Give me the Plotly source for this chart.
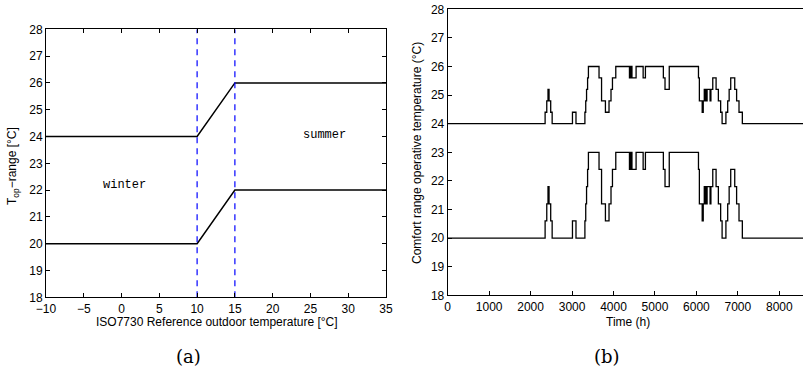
import plotly.graph_objects as go

# ---- Panel (a) data ----
ref_temp = [-10, 10, 15, 35]
upper_a = [24, 24, 26, 26]
lower_a = [20, 20, 22, 22]
switch_temps = [10, 15]
yrange_a = [18, 28]

# ---- Panel (b) data (step series, value holds from each time onward) ----
time_h = [0, 2350, 2390, 2420, 2445, 2485, 2520, 3010, 3095, 3310, 3330, 3350, 3375, 3395,
          3651, 3712, 3805, 3892, 3940, 3975, 4055, 4385, 4400, 4415, 4430, 4445,
          4545, 4715, 4770, 5203, 5243, 5345, 6050, 6072, 6140, 6165, 6190, 6205, 6225, 6240,
          6258, 6330, 6350, 6395, 6475, 6530, 6585, 6620, 6712, 6755, 6790, 6828, 6925, 6970,
          7028, 7108, 8760]
lower_b = [20, 20.6, 21.2, 21.8, 21.2, 20.6, 20, 20.6, 20, 20.6, 21.2, 21.8, 22.4, 23,
           22.4, 21.2, 20.6, 21.2, 21.8, 22.4, 23, 22.4, 23, 22.4, 23, 22.4,
           23, 22.4, 23, 22.4, 21.8, 23, 22.4, 21.2, 20.6, 21.2, 21.8, 21.2, 21.8, 21.2,
           21.8, 21.2, 21.8, 22.4, 21.8, 21.2, 20.6, 20, 20.6, 21.2, 21.8, 22.4, 21.8, 21.2,
           20.6, 20, 20]
upper_b = [24, 24.4, 24.8, 25.2, 24.8, 24.4, 24, 24.4, 24, 24.4, 24.8, 25.2, 25.6, 26,
           25.6, 24.8, 24.4, 24.8, 25.2, 25.6, 26, 25.6, 26, 25.6, 26, 25.6,
           26, 25.6, 26, 25.6, 25.2, 26, 25.6, 24.8, 24.4, 24.8, 25.2, 24.8, 25.2, 24.8,
           25.2, 24.8, 25.2, 25.6, 25.2, 24.8, 24.4, 24, 24.4, 24.8, 25.2, 25.6, 25.2, 24.8,
           24.4, 24, 24]
xtick_b = [0, 1000, 2000, 3000, 4000, 5000, 6000, 7000, 8000]
ytick = [18, 19, 20, 21, 22, 23, 24, 25, 26, 27, 28]

W, H = 803, 373
fig = go.Figure()

line_style = dict(color="black", width=1.5)
fig.add_trace(go.Scatter(x=ref_temp, y=upper_a, mode="lines", line=line_style,
                         xaxis="x", yaxis="y", showlegend=False, hoverinfo="skip"))
fig.add_trace(go.Scatter(x=ref_temp, y=lower_a, mode="lines", line=line_style,
                         xaxis="x", yaxis="y", showlegend=False, hoverinfo="skip"))
for xs in switch_temps:
    fig.add_trace(go.Scatter(x=[xs, xs], y=yrange_a, mode="lines",
                             line=dict(color="#0000ff", width=1.2, dash="6px,5px"),
                             xaxis="x", yaxis="y", showlegend=False, hoverinfo="skip"))

fig.add_trace(go.Scatter(x=time_h, y=upper_b, mode="lines", line=dict(color="black", width=1.3, shape="hv"),
                         xaxis="x2", yaxis="y2", showlegend=False, hoverinfo="skip"))
fig.add_trace(go.Scatter(x=time_h, y=lower_b, mode="lines", line=dict(color="black", width=1.3, shape="hv"),
                         xaxis="x2", yaxis="y2", showlegend=False, hoverinfo="skip"))

tickfont = dict(family="Liberation Sans, Arial, sans-serif", size=12, color="black")
common = dict(showgrid=False, zeroline=False, showline=True, linecolor="black", linewidth=1,
              ticks="inside", ticklen=4, tickcolor="black", tickwidth=1, tickfont=tickfont,
              automargin=False)

fig.update_layout(
    width=W, height=H,
    margin=dict(l=0, r=0, t=0, b=0, pad=0, autoexpand=False),
    paper_bgcolor="white", plot_bgcolor="white",
    xaxis=dict(domain=[46 / W, 386 / W], range=[-10, 35], tickvals=list(range(-10, 40, 5)),
               ticktext=["\u221210", "\u22125"] + [str(v) for v in range(0, 40, 5)],
               mirror="ticks", anchor="y", **common),
    yaxis=dict(domain=[1 - 297.3 / H, 1 - 29.3 / H], range=yrange_a, tickvals=ytick,
               mirror="ticks", anchor="x", **common),
    xaxis2=dict(domain=[447.7 / W, 1.0], range=[0, (W - 447.7) / 0.04145], tickvals=xtick_b,
                mirror=True, anchor="y2", **common),
    yaxis2=dict(domain=[1 - 295.3 / H, 1 - 9.3 / H], range=[18, 28], tickvals=ytick,
                mirror=False, anchor="x2", **common),
)

label_font = dict(family="Liberation Sans, Arial, sans-serif", size=12, color="black")
mono = dict(family="Liberation Mono, Courier New, monospace", size=12, color="black")
serif = dict(family="DejaVu Serif, Liberation Serif, serif", size=18, color="black")

def pa(x, y, text, font, angle=0):
    return dict(x=x / W, y=1 - y / H, xref="paper", yref="paper", text=text, font=font,
                showarrow=False, textangle=angle, xanchor="center", yanchor="middle")

ann = [
    dict(x=0.45, y=22.2, xref="x", yref="y", text="winter", font=mono, showarrow=False,
         xanchor="center", yanchor="middle"),
    dict(x=26.8, y=24.07, xref="x", yref="y", text="summer", font=mono, showarrow=False,
         xanchor="center", yanchor="middle"),
    pa(217, 322, "ISO7730 Reference outdoor temperature [°C]", label_font),
    pa(13, 166, "T<sub>op</sub>\u2212range [°C]", label_font, -90),
    pa(188, 356, "(a)", serif),
    pa(628, 322, "Time (h)", label_font),
    pa(417, 153, "Comfort range operative temperature (°C)", label_font, -90),
    pa(607, 356, "(b)", serif),
]
fig.update_layout(annotations=ann)

fig.write_html("out.html", config={"displayModeBar": False})
